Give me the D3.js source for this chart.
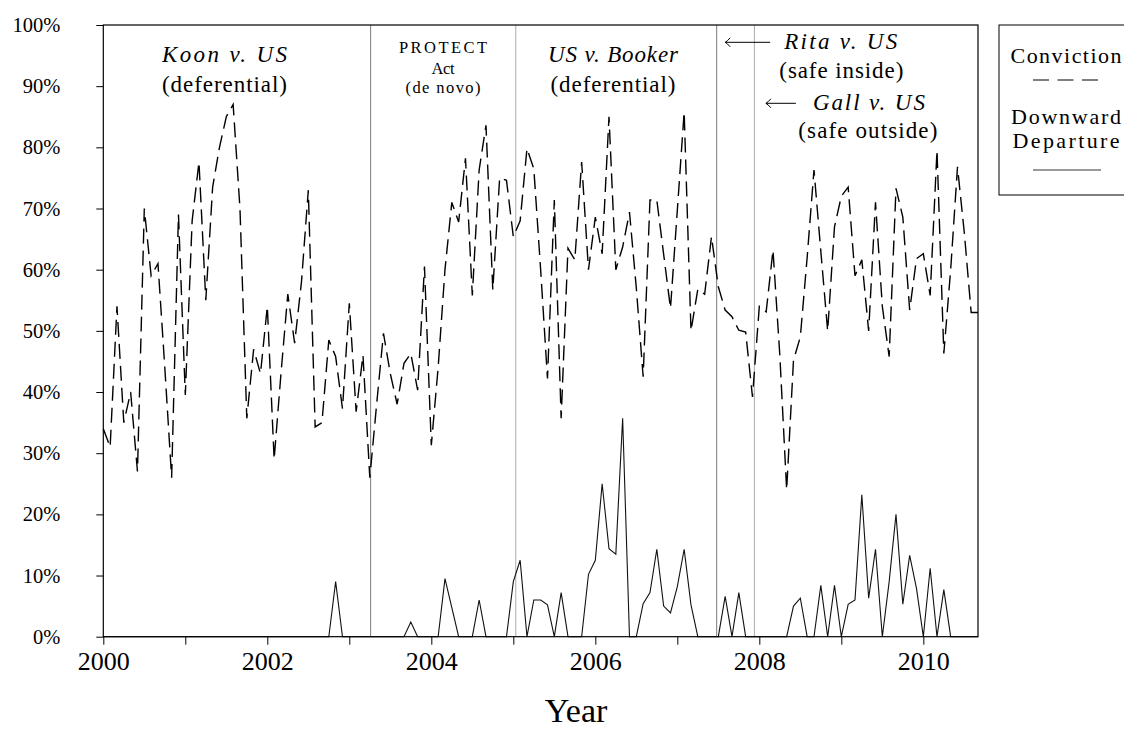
<!DOCTYPE html>
<html><head><meta charset="utf-8">
<script src="https://cdn.jsdelivr.net/npm/d3@7"></script>
<style>
body{margin:0;background:#fff}
svg{display:block}
text{font-family:"Liberation Serif","Times New Roman",serif;fill:#000}
</style>
</head><body><svg id="c" width="1124" height="749"></svg>
<script>
// ---- data (monthly, starting January 2000) ----
const startYear = 2000;
const conviction = [
 34,31,54,35,40,27,70,59,61,44,26,69,
 39.5,68,77.6,55,73.5,80,85,87,70,35.7,47,43,
 54,29,43,56,48,58,73,34.3,35,48.5,45.8,37.3,
 54.5,36.8,46,26,38,49.6,43,38,44.7,46.3,40.3,60.5,
 31.3,44,60,71,67.8,78.2,55.8,76.3,83.6,56.7,75,74.6,
 65.4,68,79.8,76.5,60,42.2,71.4,35.7,63.5,61.6,77.6,60,
 68.6,62.6,85,60,63.7,69.4,57,42.5,71.4,71.4,62.5,53.7,
 69.7,85.8,50,56.8,56,65.4,57.2,53.4,52.3,50.1,49.8,39.2,
 54,53.1,63.2,46,24,45.2,49,62,76.3,63,50,67,
 72,73.5,59,61.6,50,71,54,45.8,73.3,68.6,53.4,61.8,
 62.6,55.8,79.5,46.3,60,76.8,66,53,53
];
const departure = [
 0,0,0,0,0,0,0,0,0,0,0,0,
 0,0,0,0,0,0,0,0,0,0,0,0,
 0,0,0,0,0,0,0,0,0,0,9,0,
 0,0,0,0,0,0,0,0,0,2.4,0,0,
 0,0,9.5,4.75,0,0,0,6,0,0,0,0,
 9,12.5,0,6,6,5.2,0,7.2,0,0,0,10.2,
 12.5,25,14.4,13.5,35.7,0,0,5.4,7.2,14.3,5,3.9,
 8.2,14.3,5.2,0,0,0,0,6.6,0,7.2,0,0,
 0,0,0,0,0,5,6.3,0,0,8.4,0,8.4,
 0,5.3,6,23.2,6.3,14.3,0,9,20,5.3,13.3,7.9,
 0,11.2,0,7.7,0,0,0,0,0
];
const rulingDates = [2003.26, 2005.03, 2007.48, 2007.94];
const rulingShades = ["#7c7c7c", "#acacac", "#7c7c7c", "#acacac"];
const yTickValues = [0,10,20,30,40,50,60,70,80,90,100];
const xTickValues = [2000,2001,2002,2003,2004,2005,2006,2007,2008,2009,2010];
const xTickLabels = ["2000","","2002","","2004","","2006","","2008","","2010"];
const legendLabels = ["Conviction", "Downward", "Departure"];

// ---- layout ----
const svg = d3.select("#c");
const L = 103.3, R = 978, T = 25, B = 636.7;
const nMonths = conviction.length - 1;
const x = d3.scaleLinear().domain([startYear, startYear + nMonths / 12]).range([L, R]);
const y = d3.scaleLinear().domain([0, 100]).range([B, T]);
const tOf = i => startYear + i / 12;

svg.append("rect").attr("width", 1124).attr("height", 749).attr("fill", "#fff");

// ruling lines
svg.append("g").selectAll("line").data(rulingDates).join("line")
  .attr("x1", d => x(d)).attr("x2", d => x(d))
  .attr("y1", T).attr("y2", B)
  .attr("stroke", (d, i) => rulingShades[i]).attr("stroke-width", 1);

// departure (solid)
const line = d3.line().x((d, i) => x(tOf(i))).y(d => y(d));
svg.append("path").datum(departure).attr("d", line)
  .attr("fill", "none").attr("stroke", "#111").attr("stroke-width", 1.1)
  .attr("stroke-linejoin", "miter");

// conviction (dashed)
svg.append("path").datum(conviction).attr("d", line)
  .attr("fill", "none").attr("stroke", "#000").attr("stroke-width", 1.4)
  .attr("stroke-dasharray", "15,7").attr("stroke-linejoin", "miter");

// axes
const yAxis = svg.append("g").attr("transform", `translate(${L},0)`)
  .call(d3.axisLeft(y).tickValues(yTickValues).tickSize(7).tickPadding(36)
    .tickFormat(d => d + "%"));
yAxis.attr("font-family", null).attr("font-size", null);
yAxis.select(".domain").remove();
yAxis.selectAll("text").attr("font-size", 20.5).attr("font-family", "Liberation Serif");
yAxis.selectAll("line").attr("stroke", "#000");

const xAxis = svg.append("g").attr("transform", `translate(0,${B})`)
  .call(d3.axisBottom(x).tickValues(xTickValues).tickSize(8)
    .tickFormat((d, i) => xTickLabels[i]));
xAxis.attr("font-family", null).attr("font-size", null);
xAxis.select(".domain").remove();
xAxis.selectAll("text").attr("font-size", 26).attr("y", 33).attr("dy", 0)
  .attr("font-family", "Liberation Serif");
xAxis.selectAll("line").attr("stroke", "#000");

// frame
svg.append("rect").attr("x", L).attr("y", T).attr("width", R - L).attr("height", B - T)
  .attr("fill", "none").attr("stroke", "#000").attr("stroke-width", 1.2);

svg.append("text").attr("x", 576).attr("y", 722).attr("text-anchor", "middle")
  .attr("font-size", 34).text("Year");

// annotations
function label(txt, cx, by, size, italic, len) {
  const t = svg.append("text").attr("x", cx).attr("y", by).attr("text-anchor", "middle")
    .attr("font-size", size).text(txt);
  if (italic) t.attr("font-style", "italic");
  if (len) t.attr("textLength", len).attr("lengthAdjust", "spacing");
  return t;
}
label("Koon v. US", 224.5, 61.7, 23, true, 125);
label("(deferential)", 224.5, 91.7, 23, false, 125);
label("PROTECT", 443, 53.3, 16.5, false, 88);
label("Act", 443, 73.5, 16.5, false, 23);
label("(de novo)", 443, 93.3, 16.5, false, 75);
label("US v. Booker", 613, 61.7, 23, true, 130);
label("(deferential)", 613, 91.7, 23, false, 125);
label("Rita v. US", 840.7, 49, 23, true, 113);
label("(safe inside)", 841.3, 78.3, 23, false, 124);
label("Gall v. US", 868.9, 110, 23, true, 112);
label("(safe outside)", 867.8, 138.3, 23, false, 139);

function arrow(x0, x1, yy) {
  svg.append("path")
    .attr("d", `M${x1},${yy} L${x0},${yy} M${x0 + 5},${yy - 4.5} Q${x0 + 2},${yy - 1} ${x0},${yy} Q${x0 + 2},${yy + 1} ${x0 + 5},${yy + 4.5}`)
    .attr("fill", "none").attr("stroke", "#000").attr("stroke-width", 1);
}
arrow(x(rulingDates[2]) + 8.5, x(rulingDates[2]) + 53.5, 42.3);
arrow(x(rulingDates[3]) + 11.5, x(rulingDates[3]) + 41.5, 103.3);

// legend
svg.append("rect").attr("x", 999).attr("y", 25).attr("width", 150).attr("height", 170)
  .attr("fill", "#fff").attr("stroke", "#000").attr("stroke-width", 1);
label(legendLabels[0], 1066, 63, 22, false, 111);
svg.append("line").attr("x1", 1033).attr("x2", 1099).attr("y1", 80).attr("y2", 80)
  .attr("stroke", "#000").attr("stroke-width", 1.1).attr("stroke-dasharray", "16,8.5");
label(legendLabels[1], 1066, 124, 22, false, 110);
label(legendLabels[2], 1066, 148, 22, false, 107);
svg.append("line").attr("x1", 1033).attr("x2", 1101).attr("y1", 170).attr("y2", 170)
  .attr("stroke", "#777").attr("stroke-width", 1.3);
</script>
</body></html>
